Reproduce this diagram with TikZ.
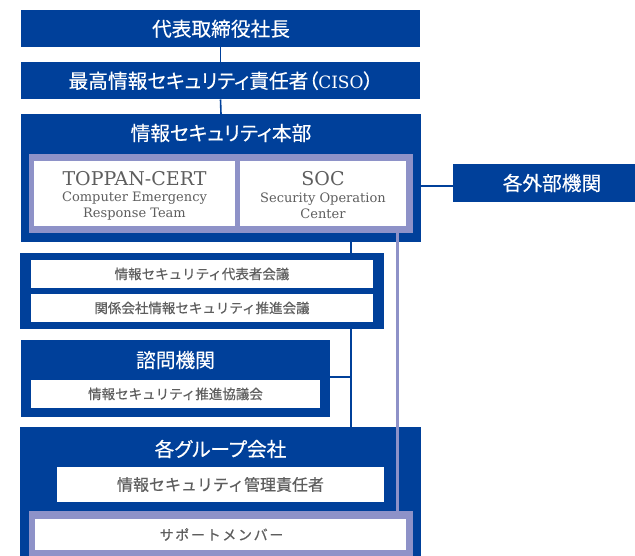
\documentclass[tikz,border=0pt]{standalone}
\usepackage{fontspec}
\setmainfont{Noto Sans CJK JP}
\newfontfamily\jp[RawFeature=+palt,FakeBold=0.3]{Noto Sans CJK JP}
\newfontfamily\jpm[FakeBold=0.5]{Noto Sans CJK JP}
\newfontfamily\jpls[LetterSpace=12,FakeBold=0.5]{Noto Sans CJK JP}
\newfontfamily\ser{DejaVu Serif}
\definecolor{tblue}{HTML}{00409A}
\definecolor{tpurple}{HTML}{8E92C8}
\definecolor{tgray}{HTML}{5E5E5E}
\tikzset{
  box/.style={inner sep=0pt, outer sep=0pt, draw=none, anchor=center},
  blk/.style={box, fill=tblue},
  wht/.style={box, fill=white},
  pur/.style={box, fill=tpurple},
  ttl/.style={inner sep=0pt, text=white, font=\jp\fontsize{19.7}{22}\selectfont},
  lbl/.style={text=tgray, font=\jpm\fontsize{13.5}{16}\selectfont},
  lblbig/.style={text=tgray, font=\jpm\fontsize{16}{18}\selectfont},
  sermain/.style={inner sep=0pt, text=tgray, font=\ser\fontsize{19}{21}\selectfont},
  sersub/.style={inner sep=0pt, text=tgray, align=center, font=\ser\fontsize{13}{16}\selectfont},
  conn/.style={draw=tblue, line width=2pt},
  thinconn/.style={draw=tblue, line width=1.6pt},
  pconn/.style={draw=tpurple, line width=3pt},
}
\begin{document}
\begin{tikzpicture}[x=1pt, y=-1pt]
\useasboundingbox (0,0) rectangle (635,556);
\coordinate (vx) at (351,0);
\coordinate (px) at (397.7,0);
\coordinate (hy) at (0,377);
\coordinate (ey) at (0,186);
% top chain
\node[blk, minimum width=399pt, minimum height=37.5pt] (b1) at (220.5,28.75) {};
\node[ttl] (t1) at (221,28.75) {代表取締役社長};
\node[blk, minimum width=399pt, minimum height=37.5pt] (b2) at (220.5,80.75) {};
\node[ttl] (t2) at (221,80.75) {最高情報セキュリティ責任者（{\ser\fontsize{17}{20}\selectfont CISO}）};
% headquarters
\node[blk, minimum width=400pt, minimum height=128pt] (b3) at (221,178) {};
\node[ttl] (t3) at (221,133) {情報セキュリティ本部};
\node[pur, minimum width=384pt, minimum height=79pt] (pf1) at (221,193.5) {};
\node[wht, minimum width=201pt, minimum height=65pt] (cert) at (134.5,193.5) {};
\node[wht, minimum width=166pt, minimum height=65pt] (soc) at (323,193.5) {};
\node[sermain] (certT) at (134.5,179) {TOPPAN-CERT};
\node[sersub] (certS) at (134.5,206) {Computer Emergency\\Response Team};
\node[sermain] (socT) at (323,179) {SOC};
\node[sersub] (socS) at (323,206) {Security Operation\\Center};
% external
\node[blk, minimum width=182pt, minimum height=38pt] (ext) at (544,183) {};
\node[ttl] (text) at (552,183) {各外部機関};
% connectors behind
\draw[thinconn] (b1.south) -- (b2.north);
\draw[thinconn] (b2.south) -- (b3.north);
\draw[conn] (b3.east |- ey) -- (ext.west |- ey);
\draw[conn] (b3.south -| vx) -- (vx |- 0,427);
% committees
\node[blk, minimum width=364pt, minimum height=76pt] (b4) at (202,291) {};
\node[wht, lbl, minimum width=342pt, minimum height=28pt] (c1) at (202,274) {情報セキュリティ代表者会議};
\node[wht, lbl, minimum width=342pt, minimum height=28pt] (c2) at (202,308) {関係会社情報セキュリティ推進会議};
% advisory
\node[blk, minimum width=309pt, minimum height=77pt] (b5) at (175.5,378.5) {};
\node[ttl] (t5) at (175.5,360) {諮問機関};
\node[wht, lbl, minimum width=289pt, minimum height=28pt] (c3) at (175.5,394) {情報セキュリティ推進協議会};
\draw[conn] (b5.east |- hy) -- (vx |- hy);
% group companies
\node[blk, minimum width=401pt, minimum height=129pt] (b6) at (220.5,491.5) {};
\node[ttl] (t6) at (220.5,449) {各グループ会社};
\node[wht, lblbig, minimum width=327pt, minimum height=35pt] (c4) at (220.5,484.5) {情報セキュリティ管理責任者};
\node[pur, minimum width=384pt, minimum height=45pt] (pf2) at (221,533.5) {};
\node[wht, minimum width=371pt, minimum height=31pt] (c5) at (220.5,534.5) {};
\node[text=tgray, inner sep=0pt, font=\jpls\fontsize{14}{16}\selectfont] (c5t) at (221.5,534.5) {サポートメンバー};
% purple link
\draw[pconn] (pf1.south -| px) -- (pf2.north -| px);
\end{tikzpicture}
\end{document}
